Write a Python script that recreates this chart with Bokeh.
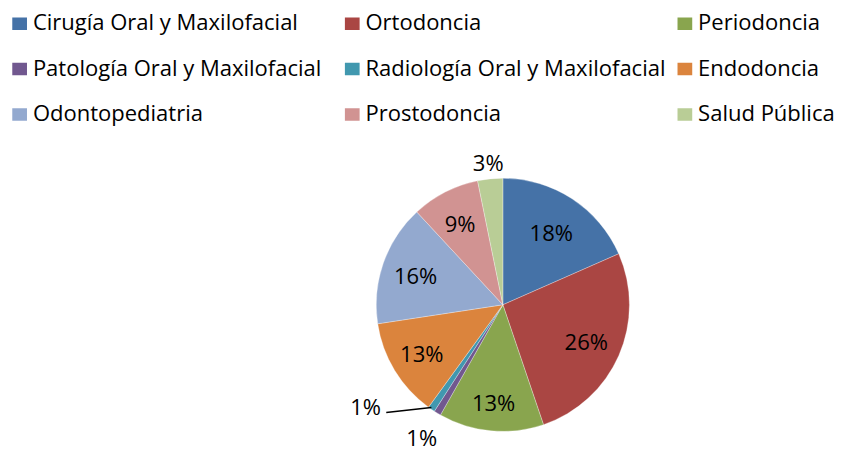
import math
from bokeh.plotting import figure
from bokeh.models import Range1d, ColumnDataSource
from bokeh.core.properties import value
from bokeh.embed import file_html
from bokeh.resources import INLINE

# ---- data ----
categories = ["Cirugía Oral y Maxilofacial", "Ortodoncia", "Periodoncia",
              "Patología Oral y Maxilofacial", "Radiología Oral y Maxilofacial", "Endodoncia",
              "Odontopediatria", "Prostodoncia", "Salud Pública"]
shares = [18.4, 26.4, 13.4, 0.9, 0.9, 12.6, 15.5, 8.7, 3.2]
colors = ["#4572A7", "#AA4643", "#89A54E", "#71588F", "#4198AF", "#DB843D",
          "#93A9CF", "#D19392", "#B9CD96"]

# ---- layout: data units = reference pixels (850 x 470), y downward drawn negative ----
W, H = 834, 454
FONT = value("Open Sans")
FS = "22px"
cx, cy, R = 512, -315, 129
label_f = [0.70, 0.72, 0.78, 1.24, None, 0.75, 0.73, 0.74, 1.15]

p = figure(width=W, height=H, x_range=Range1d(0, 850), y_range=Range1d(-470, 0),
           output_backend="svg", toolbar_location=None, min_border=0)
p.axis.visible = False
p.grid.visible = False
p.outline_line_color = None
p.background_fill_color = "white"
p.border_fill_color = "white"

total = sum(shares)
starts, ends, mids = [], [], []
acc = 0.0
for s in shares:
    t0 = acc / total * 2 * math.pi
    acc += s
    t1 = acc / total * 2 * math.pi
    starts.append(math.pi / 2 - t0)
    ends.append(math.pi / 2 - t1)
    mids.append((t0 + t1) / 2)

src = ColumnDataSource(dict(start=starts, end=ends, color=colors, cat=categories))
p.wedge(x=cx, y=cy, radius=R, start_angle="start", end_angle="end", direction="clock",
        fill_color="color", line_color="white", line_width=0.3, source=src)

# percent labels
lx, ly, lt = [], [], []
for i, s in enumerate(shares):
    txt = f"{round(s / total * 100)}%"
    th = mids[i]
    if label_f[i] is None:
        ax = cx + R * math.sin(th)
        ay = cy + R * math.cos(th)
        ex, ey = ax - 46, ay - 5
        p.line([ax, ex], [ay, ey], line_color="black", line_width=1.5)
        lx.append(ex - 21)
        ly.append(ey + 7)
        lt.append(txt)
        continue
    lx.append(cx + label_f[i] * R * math.sin(th))
    ly.append(cy + label_f[i] * R * math.cos(th))
    lt.append(txt)
p.text(x=lx, y=ly, text=lt, text_font=FONT, text_font_size=FS, text_color="black",
       text_align="center", text_baseline="middle")

# legend (3 columns)
col_x = [12, 351, 690]
row_y = [-21.5, -68.5, -115.5]
sx, sy, tx, ty = [], [], [], []
for i, c in enumerate(categories):
    col, row = i % 3, i // 3
    sx.append(col_x[col] + 7.5)
    sy.append(row_y[row] - 2.5)
    tx.append(col_x[col] + 21)
    ty.append(row_y[row])
p.rect(x=sx, y=sy, width=15, height=13, fill_color=colors, line_color=None)
p.text(x=tx, y=ty, text=categories, text_font=FONT, text_font_size=FS, text_color="black",
       text_align="left", text_baseline="middle")

open("out.html", "w").write(file_html(p, INLINE))
